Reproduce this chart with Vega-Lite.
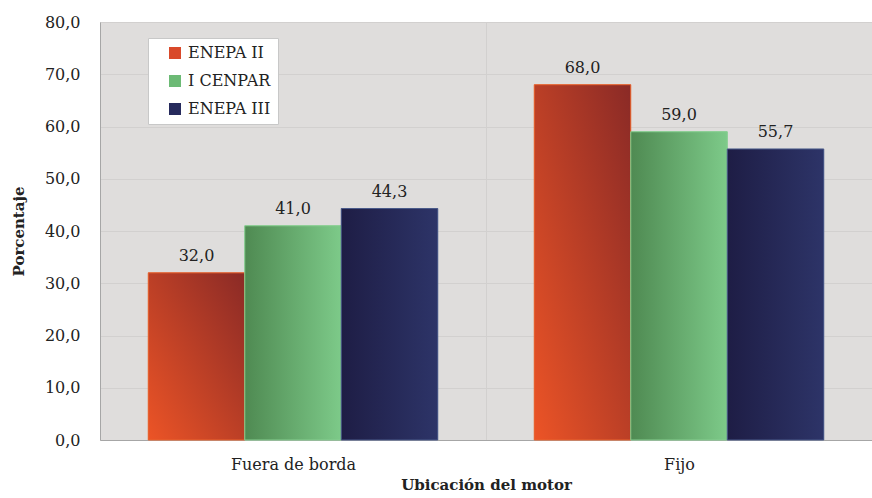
{
  "$schema": "https://vega.github.io/schema/vega-lite/v6.json",
  "width": 772,
  "height": 418,
  "autosize": {"type": "none"},
  "padding": {"left": 100, "top": 22, "right": 0, "bottom": 58},
  "background": "white",
  "data": {
    "values": [
      {"ubicacion": "Fuera de borda", "serie": "ENEPA II", "pct": 32.0},
      {"ubicacion": "Fuera de borda", "serie": "I CENPAR", "pct": 41.0},
      {"ubicacion": "Fuera de borda", "serie": "ENEPA III", "pct": 44.3},
      {"ubicacion": "Fijo", "serie": "ENEPA II", "pct": 68.0},
      {"ubicacion": "Fijo", "serie": "I CENPAR", "pct": 59.0},
      {"ubicacion": "Fijo", "serie": "ENEPA III", "pct": 55.7}
    ]
  },
  "encoding": {
    "x": {
      "field": "ubicacion", "type": "nominal", "sort": ["Fuera de borda", "Fijo"],
      "scale": {"paddingInner": 0, "paddingOuter": 0},
      "axis": {
        "title": "Ubicación del motor", "labelAngle": 0, "ticks": false, "tickBand": "extent",
        "grid": true, "gridColor": "#d2d0cf", "labelPadding": 16, "titlePadding": 5,
        "domainColor": "#a6a6a6"
      }
    },
    "xOffset": {"field": "serie", "type": "nominal", "scale": {"domain": ["ENEPA II", "I CENPAR", "ENEPA III"], "paddingInner": 0, "paddingOuter": 0.5}},
    "y": {
      "field": "pct", "type": "quantitative",
      "scale": {"domain": [0, 80]},
      "axis": {
        "title": "Porcentaje", "format": ".1f", "tickCount": 8, "ticks": false,
        "labelPadding": 20, "titlePadding": 18, "gridColor": "#d2d0cf", "domainColor": "#a6a6a6"
      }
    }
  },
  "layer": [
    {
      "mark": {"type": "bar"},
      "encoding": {
        "color": {
          "field": "serie", "type": "nominal",
          "scale": {"domain": ["ENEPA II", "I CENPAR", "ENEPA III"], "range": ["#d9492a", "#6cba75", "#262a5c"]},
          "legend": {
            "title": null, "orient": "none", "legendX": 48, "legendY": 16,
            "fillColor": "white", "strokeColor": "#c8c8c8", "padding": 7,
            "symbolType": "square", "symbolSize": 144, "symbolOffset": 12,
            "labelFontSize": 16, "rowPadding": 12, "labelOffset": 5, "labelColor": "#222222",
            "symbolStrokeWidth": 0, "symbolOpacity": 1
          }
        }
      }
    },
    {
      "transform": [{"filter": "datum.serie === 'ENEPA II'"}],
      "mark": {
        "type": "bar", "stroke": "#e8642f", "strokeWidth": 1,
        "color": {"gradient": "linear", "x1": 0, "y1": 1, "x2": 1, "y2": 0,
          "stops": [{"offset": 0, "color": "#ec5426"}, {"offset": 1, "color": "#8a2a26"}]}
      }
    },
    {
      "transform": [{"filter": "datum.serie === 'I CENPAR'"}],
      "mark": {
        "type": "bar", "stroke": "#86cf90", "strokeWidth": 1,
        "color": {"gradient": "linear", "x1": 0, "y1": 0, "x2": 1, "y2": 0,
          "stops": [{"offset": 0, "color": "#4f8a52"}, {"offset": 1, "color": "#7dca89"}]}
      }
    },
    {
      "transform": [{"filter": "datum.serie === 'ENEPA III'"}],
      "mark": {
        "type": "bar", "stroke": "#4a5a8a", "strokeWidth": 1,
        "color": {"gradient": "linear", "x1": 0, "y1": 0, "x2": 1, "y2": 0,
          "stops": [{"offset": 0, "color": "#1e1d45"}, {"offset": 1, "color": "#2d3468"}]}
      }
    },
    {
      "mark": {"type": "text", "dy": -9, "fontSize": 16, "color": "#222222", "baseline": "bottom", "font": "DejaVu Serif"},
      "encoding": {
        "text": {"field": "pct", "type": "quantitative", "format": ".1f"}
      }
    }
  ],
  "config": {
    "locale": {"number": {"decimal": ",", "thousands": ".", "grouping": [3], "currency": ["", " €"]}},
    "font": "DejaVu Serif",
    "view": {"fill": "#dfdddc", "stroke": null},
    "axis": {
      "labelFont": "DejaVu Serif", "labelFontSize": 16, "labelColor": "#222222",
      "titleFont": "DejaVu Serif", "titleFontSize": 15, "titleFontWeight": "bold", "titleColor": "#222222"
    },
    "legend": {"labelFont": "DejaVu Serif"}
  }
}
